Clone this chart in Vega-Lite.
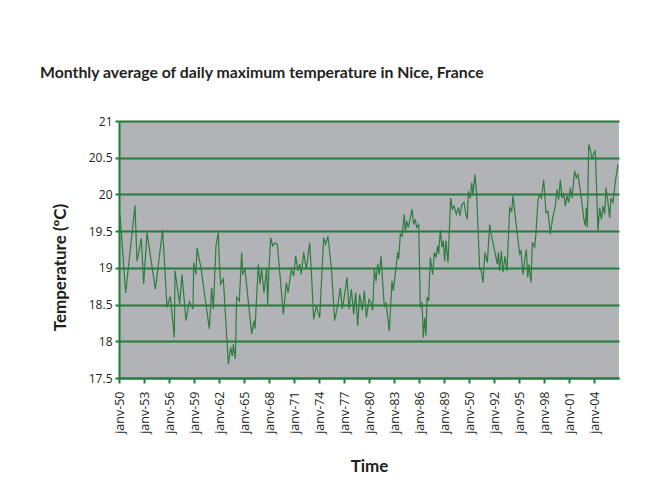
{
  "$schema": "https://vega.github.io/schema/vega-lite/v6.json",
  "width": 500,
  "height": 257,
  "autosize": "none",
  "padding": {"left": 119, "top": 121, "right": 45, "bottom": 120},
  "background": "white",
  "title": {
    "text": "Monthly average of daily maximum temperature in Nice, France",
    "anchor": "start",
    "frame": "group",
    "dx": -79,
    "offset": 33,
    "font": "Lato",
    "fontSize": 15.8,
    "fontWeight": "bold",
    "color": "#231f20"
  },
  "config": {
    "view": {"fill": "#b2b3b6", "stroke": null},
    "axis": {
      "labelFont": "Open Sans",
      "labelFontSize": 12,
      "labelColor": "#231f20",
      "titleFont": "Lato",
      "titleFontSize": 17,
      "titleFontWeight": "bold",
      "titleColor": "#231f20",
      "domainColor": "#237a3a",
      "domainWidth": 2,
      "tickColor": "#237a3a",
      "tickWidth": 2,
      "tickSize": 5,
      "gridColor": "#237a3a",
      "gridWidth": 2,
      "gridOpacity": 1
    }
  },
  "data": {
    "values": [
      {"yr": 1950.12, "temp": 19.73}, {"yr": 1950.80, "temp": 18.66}, {"yr": 1951.92, "temp": 19.85}, {"yr": 1952.16, "temp": 19.09},
      {"yr": 1952.68, "temp": 19.40}, {"yr": 1952.96, "temp": 18.78}, {"yr": 1953.36, "temp": 19.48}, {"yr": 1954.36, "temp": 18.71},
      {"yr": 1955.24, "temp": 19.52}, {"yr": 1955.76, "temp": 18.46}, {"yr": 1956.16, "temp": 18.61}, {"yr": 1956.64, "temp": 18.05},
      {"yr": 1956.72, "temp": 18.96}, {"yr": 1957.28, "temp": 18.51}, {"yr": 1957.56, "temp": 18.91}, {"yr": 1958.04, "temp": 18.28},
      {"yr": 1958.44, "temp": 18.54}, {"yr": 1958.88, "temp": 18.44}, {"yr": 1958.96, "temp": 19.07}, {"yr": 1959.24, "temp": 18.91},
      {"yr": 1959.36, "temp": 19.27}, {"yr": 1959.84, "temp": 19.00}, {"yr": 1960.84, "temp": 18.17}, {"yr": 1961.12, "temp": 18.73},
      {"yr": 1961.32, "temp": 18.44}, {"yr": 1961.64, "temp": 19.30}, {"yr": 1961.92, "temp": 19.48}, {"yr": 1962.04, "temp": 19.09},
      {"yr": 1962.20, "temp": 18.78}, {"yr": 1962.52, "temp": 18.85}, {"yr": 1963.12, "temp": 17.69}, {"yr": 1963.40, "temp": 17.92},
      {"yr": 1963.60, "temp": 17.80}, {"yr": 1963.72, "temp": 17.96}, {"yr": 1963.96, "temp": 17.76}, {"yr": 1964.12, "temp": 18.60},
      {"yr": 1964.44, "temp": 18.55}, {"yr": 1964.72, "temp": 19.21}, {"yr": 1964.84, "temp": 18.91}, {"yr": 1965.12, "temp": 18.98},
      {"yr": 1965.92, "temp": 18.10}, {"yr": 1966.20, "temp": 18.28}, {"yr": 1966.32, "temp": 18.17}, {"yr": 1966.72, "temp": 19.05},
      {"yr": 1966.92, "temp": 18.78}, {"yr": 1967.12, "temp": 18.98}, {"yr": 1967.40, "temp": 18.66}, {"yr": 1967.72, "temp": 19.00},
      {"yr": 1967.84, "temp": 18.48}, {"yr": 1968.00, "temp": 19.00}, {"yr": 1968.20, "temp": 19.41}, {"yr": 1968.44, "temp": 19.30},
      {"yr": 1968.72, "temp": 19.34}, {"yr": 1969.00, "temp": 19.32}, {"yr": 1969.72, "temp": 18.37}, {"yr": 1970.08, "temp": 18.80},
      {"yr": 1970.28, "temp": 18.66}, {"yr": 1970.68, "temp": 18.98}, {"yr": 1970.96, "temp": 18.89}, {"yr": 1971.20, "temp": 19.16},
      {"yr": 1971.48, "temp": 18.96}, {"yr": 1971.68, "temp": 19.05}, {"yr": 1971.88, "temp": 18.91}, {"yr": 1972.16, "temp": 19.21},
      {"yr": 1972.48, "temp": 18.98}, {"yr": 1972.88, "temp": 19.34}, {"yr": 1973.08, "temp": 18.96}, {"yr": 1973.36, "temp": 18.30},
      {"yr": 1973.68, "temp": 18.48}, {"yr": 1974.08, "temp": 18.32}, {"yr": 1974.56, "temp": 19.41}, {"yr": 1974.80, "temp": 19.32},
      {"yr": 1975.08, "temp": 19.43}, {"yr": 1975.48, "temp": 19.00}, {"yr": 1975.88, "temp": 18.28}, {"yr": 1976.28, "temp": 18.51},
      {"yr": 1976.56, "temp": 18.73}, {"yr": 1976.80, "temp": 18.44}, {"yr": 1977.08, "temp": 18.64}, {"yr": 1977.36, "temp": 18.87},
      {"yr": 1977.60, "temp": 18.44}, {"yr": 1977.88, "temp": 18.71}, {"yr": 1978.16, "temp": 18.37}, {"yr": 1978.40, "temp": 18.66},
      {"yr": 1978.64, "temp": 18.21}, {"yr": 1978.88, "temp": 18.64}, {"yr": 1979.20, "temp": 18.42}, {"yr": 1979.44, "temp": 18.69},
      {"yr": 1979.68, "temp": 18.32}, {"yr": 1980.00, "temp": 18.57}, {"yr": 1980.24, "temp": 18.53}, {"yr": 1980.44, "temp": 18.42},
      {"yr": 1980.64, "temp": 18.98}, {"yr": 1980.84, "temp": 18.82}, {"yr": 1981.04, "temp": 19.05}, {"yr": 1981.24, "temp": 18.91},
      {"yr": 1981.44, "temp": 19.16}, {"yr": 1981.84, "temp": 18.46}, {"yr": 1982.04, "temp": 18.53}, {"yr": 1982.44, "temp": 18.14},
      {"yr": 1982.76, "temp": 18.82}, {"yr": 1982.92, "temp": 18.69}, {"yr": 1983.44, "temp": 19.21}, {"yr": 1983.56, "temp": 19.12},
      {"yr": 1983.76, "temp": 19.46}, {"yr": 1983.96, "temp": 19.43}, {"yr": 1984.24, "temp": 19.73}, {"yr": 1984.36, "temp": 19.48},
      {"yr": 1984.52, "temp": 19.64}, {"yr": 1984.72, "temp": 19.55}, {"yr": 1984.96, "temp": 19.68}, {"yr": 1985.16, "temp": 19.80},
      {"yr": 1985.36, "temp": 19.59}, {"yr": 1985.56, "temp": 19.66}, {"yr": 1985.72, "temp": 19.55}, {"yr": 1985.96, "temp": 19.59},
      {"yr": 1986.16, "temp": 18.46}, {"yr": 1986.36, "temp": 18.53}, {"yr": 1986.52, "temp": 18.05}, {"yr": 1986.68, "temp": 18.32},
      {"yr": 1986.84, "temp": 18.08}, {"yr": 1986.96, "temp": 18.60}, {"yr": 1987.16, "temp": 18.55}, {"yr": 1987.36, "temp": 19.14},
      {"yr": 1987.64, "temp": 18.91}, {"yr": 1987.84, "temp": 19.21}, {"yr": 1988.04, "temp": 19.14}, {"yr": 1988.24, "temp": 19.30},
      {"yr": 1988.36, "temp": 19.19}, {"yr": 1988.56, "temp": 19.52}, {"yr": 1988.76, "temp": 19.28}, {"yr": 1988.92, "temp": 19.37},
      {"yr": 1989.08, "temp": 19.09}, {"yr": 1989.24, "temp": 19.37}, {"yr": 1989.48, "temp": 19.07}, {"yr": 1989.80, "temp": 19.95},
      {"yr": 1990.00, "temp": 19.80}, {"yr": 1990.20, "temp": 19.84}, {"yr": 1990.48, "temp": 19.73}, {"yr": 1990.72, "temp": 19.82},
      {"yr": 1990.92, "temp": 19.71}, {"yr": 1991.12, "temp": 19.86}, {"yr": 1991.40, "temp": 19.89}, {"yr": 1991.60, "temp": 19.75},
      {"yr": 1991.80, "temp": 19.66}, {"yr": 1991.92, "temp": 20.04}, {"yr": 1992.16, "temp": 19.95}, {"yr": 1992.32, "temp": 20.16},
      {"yr": 1992.48, "temp": 20.00}, {"yr": 1992.72, "temp": 20.27}, {"yr": 1992.92, "temp": 20.00}, {"yr": 1993.28, "temp": 18.98},
      {"yr": 1993.48, "temp": 18.96}, {"yr": 1993.68, "temp": 18.80}, {"yr": 1993.92, "temp": 19.21}, {"yr": 1994.20, "temp": 19.07},
      {"yr": 1994.48, "temp": 19.59}, {"yr": 1994.72, "temp": 19.43}, {"yr": 1995.40, "temp": 19.05}, {"yr": 1995.52, "temp": 19.21},
      {"yr": 1995.68, "temp": 18.96}, {"yr": 1995.88, "temp": 19.23}, {"yr": 1996.08, "temp": 18.94}, {"yr": 1996.32, "temp": 19.16},
      {"yr": 1996.56, "temp": 18.96}, {"yr": 1996.88, "temp": 19.82}, {"yr": 1997.12, "temp": 19.77}, {"yr": 1997.28, "temp": 19.98},
      {"yr": 1997.52, "temp": 19.73}, {"yr": 1998.08, "temp": 19.19}, {"yr": 1998.24, "temp": 19.23}, {"yr": 1998.48, "temp": 18.91},
      {"yr": 1998.72, "temp": 19.14}, {"yr": 1998.88, "temp": 19.25}, {"yr": 1999.04, "temp": 18.87}, {"yr": 1999.20, "temp": 19.05},
      {"yr": 1999.32, "temp": 18.91}, {"yr": 1999.44, "temp": 18.80}, {"yr": 1999.60, "temp": 19.35}, {"yr": 1999.88, "temp": 19.28},
      {"yr": 2000.04, "temp": 19.48}, {"yr": 2000.28, "temp": 19.93}, {"yr": 2000.48, "temp": 20.00}, {"yr": 2000.68, "temp": 19.95},
      {"yr": 2000.96, "temp": 20.20}, {"yr": 2001.24, "temp": 19.75}, {"yr": 2001.48, "temp": 19.77}, {"yr": 2001.76, "temp": 19.46},
      {"yr": 2002.04, "temp": 19.68}, {"yr": 2002.36, "temp": 19.84}, {"yr": 2002.56, "temp": 20.07}, {"yr": 2002.76, "temp": 19.93},
      {"yr": 2002.96, "temp": 20.20}, {"yr": 2003.16, "temp": 19.95}, {"yr": 2003.36, "temp": 20.02}, {"yr": 2003.56, "temp": 19.84},
      {"yr": 2003.76, "temp": 19.98}, {"yr": 2003.96, "temp": 19.89}, {"yr": 2004.16, "temp": 20.09}, {"yr": 2004.36, "temp": 19.95},
      {"yr": 2004.68, "temp": 20.32}, {"yr": 2004.88, "temp": 20.23}, {"yr": 2005.08, "temp": 20.27}, {"yr": 2005.48, "temp": 19.95},
      {"yr": 2005.76, "temp": 19.68}, {"yr": 2005.96, "temp": 19.57}, {"yr": 2006.08, "temp": 19.82}, {"yr": 2006.20, "temp": 19.55},
      {"yr": 2006.36, "temp": 20.68}, {"yr": 2006.56, "temp": 20.61}, {"yr": 2006.76, "temp": 20.47}, {"yr": 2006.96, "temp": 20.56},
      {"yr": 2007.16, "temp": 20.59}, {"yr": 2007.36, "temp": 19.91}, {"yr": 2007.48, "temp": 19.50}, {"yr": 2007.68, "temp": 19.82},
      {"yr": 2007.88, "temp": 19.66}, {"yr": 2008.08, "temp": 19.84}, {"yr": 2008.28, "temp": 19.73}, {"yr": 2008.44, "temp": 20.09},
      {"yr": 2008.68, "temp": 19.89}, {"yr": 2008.88, "temp": 19.68}, {"yr": 2009.04, "temp": 19.95}, {"yr": 2009.28, "temp": 19.89},
      {"yr": 2009.56, "temp": 20.18}, {"yr": 2009.88, "temp": 20.41}
    ]
  },
  "mark": {"type": "line", "color": "#2e7d3f", "strokeWidth": 1.2},
  "encoding": {
    "x": {
      "field": "yr",
      "type": "quantitative",
      "scale": {"domain": [1950, 2010], "nice": false, "zero": false},
      "axis": {
        "title": "Time",
        "grid": false,
        "values": [1950, 1953, 1956, 1959, 1962, 1965, 1968, 1971, 1974, 1977, 1980, 1983, 1986, 1989, 1992, 1995, 1998, 2001, 2004, 2007],
        "labelExpr": "['janv-50','janv-53','janv-56','janv-59','janv-62','janv-65','janv-68','janv-71','janv-74','janv-77','janv-80','janv-83','janv-86','janv-89','janv-50','janv-92','janv-95','janv-98','janv-01','janv-04'][round((datum.value - 1950) / 3)]",
        "labelAngle": -90,
        "labelPadding": 8,
        "labelFontSize": 12.5,
        "labelBound": false,
        "labelOverlap": false,
        "titlePadding": 25
      }
    },
    "y": {
      "field": "temp",
      "type": "quantitative",
      "scale": {"domain": [17.5, 21], "nice": false, "zero": false},
      "axis": {
        "title": "Temperature (ºC)",
        "values": [17.5, 18, 18.5, 19, 19.5, 20, 20.5, 21],
        "format": "~g",
        "tickSize": 4,
        "labelPadding": 3,
        "labelOverlap": false,
        "titleX": -59,
        "titleY": 146,
        "titleBaseline": "middle",
        "titleAlign": "center",
        "titleAngle": -90
      }
    }
  }
}
